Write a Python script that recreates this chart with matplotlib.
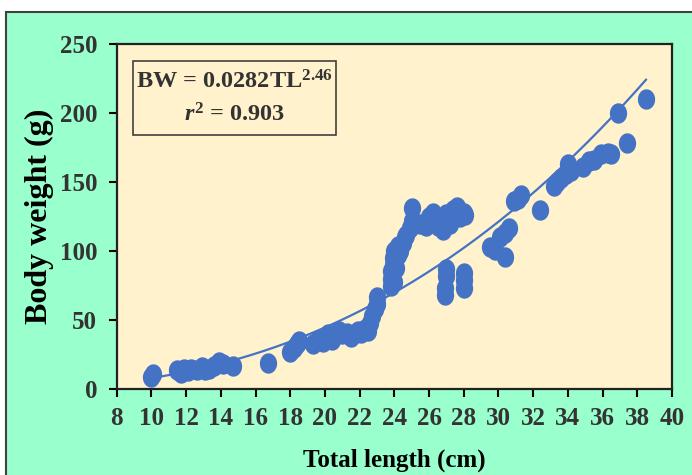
import numpy as np
import matplotlib
matplotlib.use('Agg')
import matplotlib.pyplot as plt
from matplotlib.patches import Rectangle
from matplotlib.path import Path

plt.rcParams['font.family'] = ['Liberation Serif', 'DejaVu Serif']
plt.rcParams['font.weight'] = 'bold'
plt.rcParams['mathtext.fontset'] = 'custom'
plt.rcParams['mathtext.rm'] = 'Liberation Serif:bold'
plt.rcParams['mathtext.it'] = 'Liberation Serif:italic:bold'
plt.rcParams['mathtext.bf'] = 'Liberation Serif:bold'

# total length (cm) and body weight (g)
tl = [10.0, 10.1,
      11.5, 11.7, 11.9, 12.1, 12.3, 12.6, 12.9, 13.1, 13.3, 13.6, 13.9, 14.1, 14.7,
      16.7,
      18.0, 18.2, 18.4, 18.5,
      19.3, 19.6, 19.9, 20.0, 20.2, 20.4, 20.6, 20.8, 21.0, 21.3, 21.5, 21.7,
      21.9, 22.1, 22.3, 22.5, 22.6, 22.7, 22.9, 23.0, 23.0,
      23.8, 23.8, 23.8, 23.9, 23.9, 24.0, 24.0, 24.1, 24.2, 24.2, 24.3, 24.5,
      24.6, 24.7, 24.9, 25.0, 25.0,
      25.5, 25.8, 26.0, 26.2, 26.5, 26.6, 26.8, 27.0, 27.2, 27.4, 27.6, 27.8,
      28.0, 28.1,
      26.9, 26.9, 27.0, 27.0, 28.0, 28.0, 28.0,
      29.5, 29.8, 30.1, 30.4, 30.6, 30.4, 30.9, 31.1, 31.3, 32.4,
      33.2, 33.4, 33.6, 33.9, 34.0, 34.0, 34.2, 34.9, 35.2, 35.5, 35.9, 36.3,
      36.5, 37.4, 36.9, 38.5]
bw = [9, 11,
      14, 12, 15, 13, 15, 14, 16, 14, 15, 17, 20, 18, 17,
      19,
      27, 30, 33, 35,
      33, 36, 34, 38, 40, 36, 39, 42, 40, 41, 38, 40,
      42, 41, 44, 42, 48, 53, 58, 62, 67,
      75, 80, 86, 90, 95, 100, 78, 88, 97, 104, 100, 106,
      110, 112, 117, 122, 131,
      120, 118, 125, 128, 118, 124, 115, 127, 120, 130, 132, 125,
      128, 126,
      68, 73, 82, 87, 73, 79, 84,
      103, 101, 110, 113, 117, 96, 136, 138, 141, 130,
      147, 150, 153, 156, 160, 163, 158, 161, 165, 166, 170, 171,
      170, 178, 200, 210]

a_coef = 0.0282
b_coef = 2.46
r2 = 0.903

x_ticks = list(range(8, 41, 2))
y_ticks = [0, 50, 100, 150, 200, 250]

blue = '#4472C4'
green = '#99FFCC'
cream = '#FFF2CC'
ink = '#333333'

fig = plt.figure(figsize=(6.92, 4.75), dpi=100)
fig.patch.set_facecolor('white')
fig.patches.append(Rectangle((6 / 692, -0.05), 1.1, 1 - 12 / 475 + 0.05,
                             transform=fig.transFigure, facecolor=green,
                             edgecolor='#404040', linewidth=1.5, zorder=-10))

ax = fig.add_axes([116.7 / 692, 1 - 389.3 / 475, 555.3 / 692, 345.3 / 475])
ax.set_zorder(5)
ax.set_facecolor(cream)

t = np.linspace(0, 2 * np.pi, 60)
ellipse = Path(np.column_stack([np.cos(t), 1.18 * np.sin(t)]), closed=True)

xx = np.linspace(10, 38.5, 200)
ax.plot(xx, a_coef * xx ** b_coef, color=blue, linewidth=1.6, zorder=2)
ax.scatter(tl, bw, marker=ellipse, s=215, color=blue, linewidths=0, zorder=3)

ax.set_xlim(8, 40)
ax.set_ylim(0, 250)
ax.set_xticks(x_ticks)
ax.set_yticks(y_ticks)
ax.tick_params(direction='out', length=6, width=1.5, colors='black',
               labelcolor=ink, labelsize=18)
ax.tick_params(axis='x', pad=7)
ax.tick_params(axis='y', pad=8)
for lab in ax.get_xticklabels() + ax.get_yticklabels():
    lab.set_fontweight('bold')
for sp in ax.spines.values():
    sp.set_linewidth(1.6)
    sp.set_color('#222222')

ax.set_xlabel('Total length (cm)', fontsize=18, fontweight='bold', color='black',
              labelpad=13)
ax.set_ylabel('Body weight (g)', fontsize=23, fontweight='bold', color='black',
              labelpad=4)

ax.add_patch(Rectangle((0.0294, 0.7365), 0.3656, 0.2145, transform=ax.transAxes,
                       facecolor='none', edgecolor='#404040', linewidth=1.2,
                       zorder=4))
ax.text(0.212, 0.891, 'BW = %.4fTL$^{%.2f}$' % (a_coef, b_coef),
        transform=ax.transAxes, ha='center', va='center', fontsize=17.5,
        fontweight='bold', color=ink, zorder=5)
ax.text(0.212, 0.794, '$r^2$ = %.3f' % r2, transform=ax.transAxes,
        ha='center', va='center', fontsize=17.5, fontweight='bold', color=ink,
        zorder=5)

fig.savefig('out.png', dpi=100)
